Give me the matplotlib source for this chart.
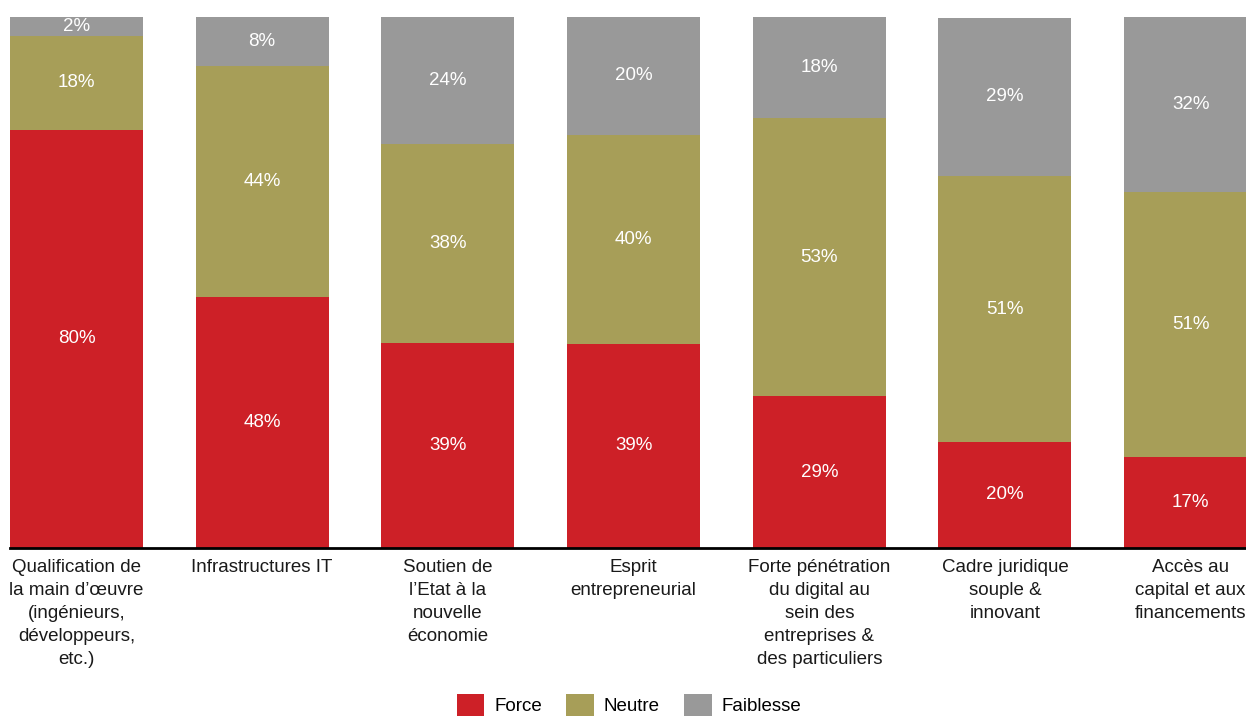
import matplotlib.pyplot as plt
import numpy as np

plt.rcParams['font.family'] = ['Liberation Sans', 'DejaVu Sans']

categories = [
    "Qualification de\nla main d\u2019\u0153uvre\n(ing\u00e9nieurs,\nd\u00e9veloppeurs,\netc.)",
    "Infrastructures IT",
    "Soutien de\nl\u2019Etat \u00e0 la\nnouvelle\n\u00e9conomie",
    "Esprit\nentrepreneurial",
    "Forte p\u00e9n\u00e9tration\ndu digital au\nsein des\nentreprises &\ndes particuliers",
    "Cadre juridique\nsouple &\ninnovant",
    "Acc\u00e8s au\ncapital et aux\nfinancements",
]
# segment shares as drawn (% of bar height)
force = [78.8, 47.3, 38.7, 38.5, 28.6, 20.0, 17.1]
neutre = [17.6, 43.4, 37.3, 39.3, 52.3, 50.0, 49.9]
faiblesse = [3.6, 9.3, 24.0, 22.2, 19.1, 29.9, 33.0]
# percentages as printed on the bars
force_lbl = [80, 48, 39, 39, 29, 20, 17]
neutre_lbl = [18, 44, 38, 40, 53, 51, 51]
faiblesse_lbl = [2, 8, 24, 20, 18, 29, 32]

series = [("Force", force, force_lbl, "#CD2027"),
          ("Neutre", neutre, neutre_lbl, "#A79E58"),
          ("Faiblesse", faiblesse, faiblesse_lbl, "#999999")]

fig = plt.figure(figsize=(12.46, 7.17), dpi=100)
ax = fig.add_axes([10 / 1246, (717 - 548) / 717, 1 - 10 / 1246, (548 - 17) / 717])

x = np.arange(len(categories))
width = 0.716
bottom = np.zeros(len(categories))
for name, vals, lbls, col in series:
    h = np.array(vals)
    ax.bar(x, h, width, bottom=bottom, color=col, label=name, edgecolor='none')
    for xi, b, hi, v in zip(x, bottom, h, lbls):
        ax.text(xi, b + hi / 2, f"{v}%", ha='center', va='center',
                color='white', fontsize=13.5)
    bottom += h

ax.set_xlim(-width / 2, 6.298)
ax.set_ylim(0, 100)
ax.set_xticks(x)
ax.set_xticklabels(categories, fontsize=13.5, color='#1a1a1a', linespacing=1.45)
ax.tick_params(axis='x', length=0, pad=8)
ax.set_yticks([])
for s in ['top', 'right', 'left']:
    ax.spines[s].set_visible(False)
ax.spines['bottom'].set_linewidth(2)
ax.spines['bottom'].set_color('black')

fig.legend(loc='center', bbox_to_anchor=(0.505, 1 - 705 / 717), ncol=3,
           frameon=False, fontsize=13.5, handlelength=1.45, handleheight=1.45,
           columnspacing=1.3, handletextpad=0.55)

fig.savefig('out.png', dpi=100)
